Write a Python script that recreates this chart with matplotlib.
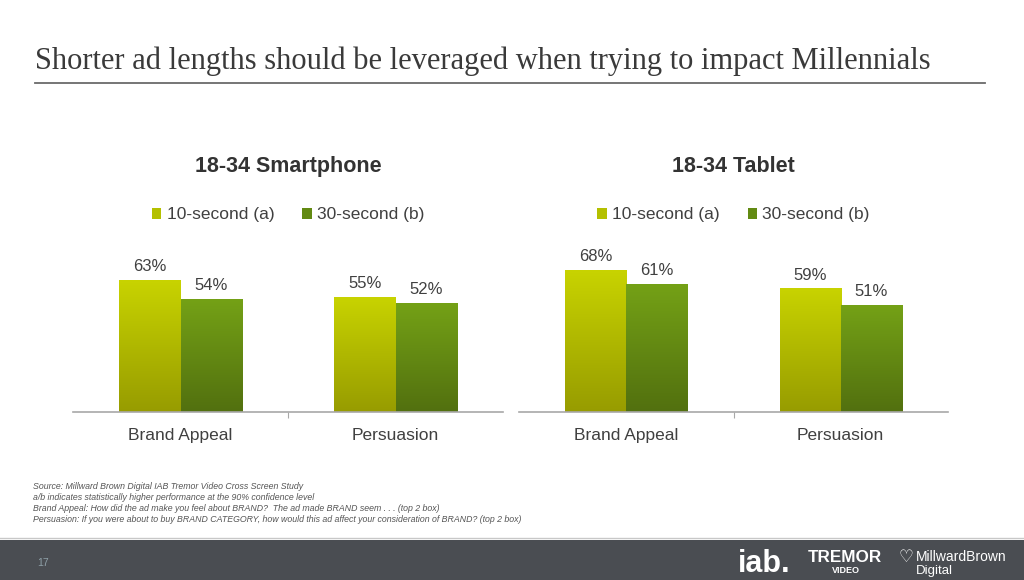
import numpy as np
import matplotlib.pyplot as plt
from matplotlib.colors import LinearSegmentedColormap

plt.rcParams['font.family'] = ['Liberation Sans', 'DejaVu Sans']

# ---------------- data
categories = ['Brand Appeal', 'Persuasion']
series = ['10-second (a)', '30-second (b)']
smartphone_10 = [63, 55]
smartphone_30 = [54, 52]
tablet_10 = [68, 59]
tablet_30 = [61, 51]
panel_titles = ['18-34 Smartphone', '18-34 Tablet']

title = 'Shorter ad lengths should be leveraged when trying to impact Millennials'
notes = ['Source: Millward Brown Digital IAB Tremor Video Cross Screen Study',
         'a/b indicates statistically higher performance at the 90% confidence level',
         'Brand Appeal: How did the ad make you feel about BRAND?  The ad made BRAND seem . . . (top 2 box)',
         'Persuasion: If you were about to buy BRAND CATEGORY, how would this ad affect your consideration of BRAND? (top 2 box)']

# ---------------- styles
grad10 = LinearSegmentedColormap.from_list('g10', ['#979c00', '#c8d300'])
grad30 = LinearSegmentedColormap.from_list('g30', ['#52700f', '#74a116'])
solid = ['#b4c000', '#628a12']
txtcol = '#404040'
bw = 0.285

fig = plt.figure(figsize=(10.24, 5.8), dpi=100)
fig.patch.set_facecolor('white')

# title + rule
fig.text(35/1024, 1-69/580, title, family='Liberation Serif', fontsize=22, color='#3a3a3a')
fig.add_artist(plt.Line2D([35/1024, 985/1024], [1-83/580, 1-83/580], color='#6a6a6a', lw=1.3))

def panel(rect, v10, v30, ptitle):
    ax = fig.add_axes(rect)
    x = np.arange(len(categories))
    b1 = ax.bar(x - bw/2, v10, bw, color=solid[0], label=series[0], zorder=1)
    b2 = ax.bar(x + bw/2, v30, bw, color=solid[1], label=series[1], zorder=1)
    grad = np.linspace(0, 1, 200).reshape(-1, 1)
    for bars, cm in ((b1, grad10), (b2, grad30)):
        for r in bars:
            x0 = r.get_x(); h = r.get_height()
            ax.imshow(grad, cmap=cm, origin='lower', aspect='auto',
                      extent=(x0, x0 + r.get_width(), 0, h), zorder=2)
    for xi, v in zip(x - bw/2, v10):
        ax.text(xi, v + 3, '%d%%' % v, ha='center', va='bottom', fontsize=12, color=txtcol)
    for xi, v in zip(x + bw/2, v30):
        ax.text(xi, v + 3, '%d%%' % v, ha='center', va='bottom', fontsize=12, color=txtcol)
    ax.set_xlim(-0.5, 1.5)
    ax.set_ylim(0, 80)
    for s in ['top', 'left', 'right']:
        ax.spines[s].set_visible(False)
    ax.spines['bottom'].set_color('#a8a8a8')
    ax.spines['bottom'].set_linewidth(1.2)
    ax.set_yticks([])
    ax.set_xticks([0.5])
    ax.set_xticklabels([''])
    ax.tick_params(axis='x', length=4, color='#a8a8a8')
    for xi, c in zip(x, categories):
        ax.text(xi, -7.5, c, ha='center', va='top', fontsize=12.5, color=txtcol)
    ax.text(0.5, 1+(245-167)/167, ptitle, transform=ax.transAxes, ha='center', va='center',
            fontsize=15.5, fontweight='bold', color='#333333')
    ax.legend(loc='center', bbox_to_anchor=(0.5, 1+(245-215)/167), ncol=2, frameon=False,
              fontsize=12.5, handlelength=0.55, handleheight=0.55, handletextpad=0.3,
              columnspacing=1.6, labelcolor=txtcol)
    return ax

bot = 1 - 412/580
hgt = 167/580
panel([73/1024, bot, 430/1024, hgt], smartphone_10, smartphone_30, panel_titles[0])
panel([519/1024, bot, 429/1024, hgt], tablet_10, tablet_30, panel_titles[1])

# footnotes
for i, n in enumerate(notes):
    fig.text(33/1024, 1-(489+11*i)/580, n, fontsize=6.3, style='italic', color='#555555')

# footer band
fig.add_artist(plt.Rectangle((0, 0), 1, 40/580, transform=fig.transFigure,
                             facecolor='#4a4d52', edgecolor='none'))
fig.add_artist(plt.Line2D([0, 1], [1-538/580, 1-538/580], color='#c8c8c8', lw=1))
fig.text(37/1024, 1-566/580, '17', fontsize=7.5, color='#8fa0a8')
fig.text(738/1024, 1-572/580, 'iab.', fontsize=22, fontweight='bold', color='white')
fig.text(808/1024, 1-562/580, 'TREMOR', fontsize=12.3, fontweight='bold', color='white')
fig.text(846/1024, 1-573/580, 'VIDEO', fontsize=6.5, fontweight='bold', color='white', ha='center')
fig.text(898/1024, 1-562/580, '\u2661', fontsize=12, color='white', family='DejaVu Sans')
fig.text(916/1024, 1-561/580, 'MillwardBrown', fontsize=10, color='white')
fig.text(916/1024, 1-574/580, 'Digital', fontsize=9.5, color='white')

fig.savefig('out.png', dpi=100, facecolor='white')
